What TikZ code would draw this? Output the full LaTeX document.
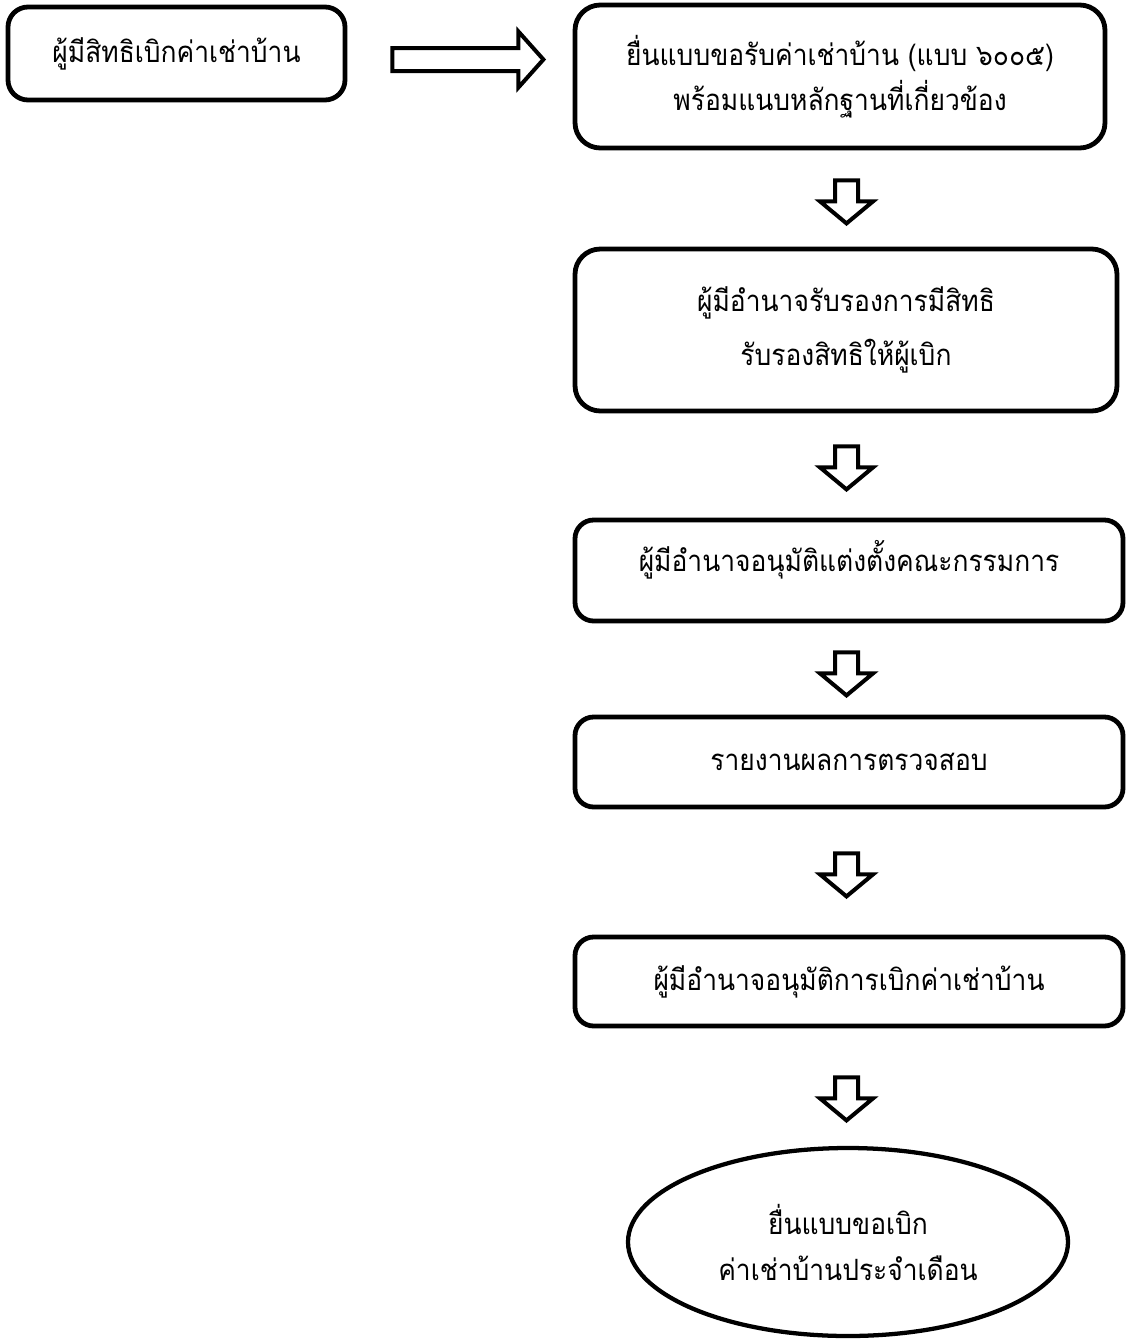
\documentclass[tikz,border=0pt]{standalone}
\usepackage{fontspec}
\newfontfamily\thaifont[Script=Thai,FakeStretch=0.9]{Loma}
\usetikzlibrary{calc,shapes.geometric}
\begin{document}
\begin{tikzpicture}[x=0.75pt,y=-0.75pt,
  box/.style={draw, line width=3.6pt, inner sep=0pt, align=center,
    font=\thaifont\fontsize{22}{33.75}\selectfont},
  blk/.style={draw, line width=3pt, fill=white, line join=miter},
  darrow/.pic={\draw[blk] (-11.5,0) -- (-11.5,21) -- (-26.5,21) -- (0,43) -- (26.5,21) -- (11.5,21) -- (11.5,0) -- cycle;},
  rarrow/.pic={\draw[blk] (0,-11.5) -- (126,-11.5) -- (126,-28) -- (151,0) -- (126,28) -- (126,11.5) -- (0,11.5) -- cycle;}
]
\useasboundingbox (0,0) rectangle (1128,1342);
\node[box, rounded corners=15pt, minimum width=252.75pt, minimum height=69.75pt] (b1) at (176.5,53.5) {ผู้มีสิทธิเบิกค่าเช่าบ้าน};
\node[box, rounded corners=19pt, minimum width=397.5pt, minimum height=107.25pt] (b2) at (840,76.5) {ยื่นแบบขอรับค่าเช่าบ้าน (แบบ ๖๐๐๕)\\พร้อมแนบหลักฐานที่เกี่ยวข้อง};
\node[box, rounded corners=19pt, minimum width=406.5pt, minimum height=121.5pt,
  font=\thaifont\fontsize{22}{40}\selectfont] (b3) at (846,330) {ผู้มีอำนาจรับรองการมีสิทธิ\\รับรองสิทธิให้ผู้เบิก};
\node[box, rounded corners=14pt, minimum width=411pt, minimum height=75.75pt] (b4) at (849,570.5) {\raisebox{8pt}[\height][\depth]{ผู้มีอำนาจอนุมัติแต่งตั้งคณะกรรมการ}};
\node[box, rounded corners=14pt, minimum width=411pt, minimum height=67.5pt] (b5) at (849,762) {รายงานผลการตรวจสอบ};
\node[box, rounded corners=14pt, minimum width=411pt, minimum height=66.75pt] (b6) at (849,981.5) {ผู้มีอำนาจอนุมัติการเบิกค่าเช่าบ้าน};
\node[box, ellipse, line width=3.2pt, minimum width=330pt, minimum height=141pt,
  font=\thaifont\fontsize{22}{34.5}\selectfont] (e) at (848,1242) {\raisebox{-5pt}[\height][\depth]{\begin{tabular}{@{}c@{}}ยื่นแบบขอเบิก\\ค่าเช่าบ้านประจำเดือน\end{tabular}}};
\pic at ($(b1.east)+(45,6)$) {rarrow};
\pic at ($(b2.south)+(6.5,30)$) {darrow};
\pic at ($(b3.south)+(0.5,33)$) {darrow};
\pic at ($(b4.south)+(-2.5,29)$) {darrow};
\pic at ($(b5.south)+(-2.5,44)$) {darrow};
\pic at ($(b6.south)+(-2.5,49)$) {darrow};
\end{tikzpicture}
\end{document}
